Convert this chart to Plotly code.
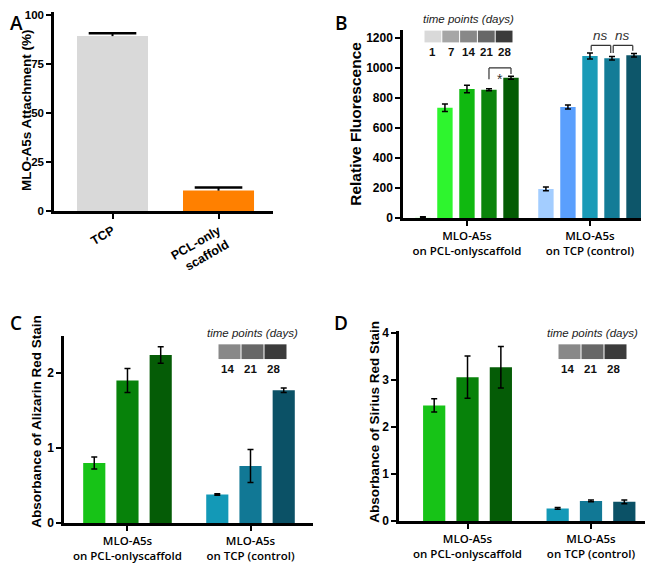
import plotly.graph_objects as go

# the page body keeps an 8px margin, so the figure is 8px smaller and all
# reference pixel positions are shifted by that amount
OFF = 8
W, H = 653 - OFF, 568 - OFF

# ---- data ----
a_groups = ["TCP", "PCL-only<br>scaffold"]
a_values = [89.2, 10.4]
a_errors = [1.4, 1.6]
a_colors = ["#d9d9d9", "#ff8000"]

groups = ["MLO-A5s<br>on PCL-onlyscaffold", "MLO-A5s<br>on TCP (control)"]

b_days = ["1", "7", "14", "21", "28"]
b_scaffold = [5, 735, 860, 855, 935]
b_scaffold_err = [5, 25, 25, 6, 10]
b_tcp = [195, 740, 1080, 1065, 1085]
b_tcp_err = [12, 14, 20, 12, 12]
b_scaffold_colors = ["#e6ffe6", "#2ef52e", "#10b910", "#0b840b", "#045c04"]
b_tcp_colors = ["#a3cdff", "#5a9ffd", "#1a9bb7", "#137c97", "#0d566a"]
b_grays = ["#d9d9d9", "#a6a6a6", "#888888", "#676767", "#3b3b3b"]

cd_days = ["14", "21", "28"]
c_scaffold = [0.80, 1.90, 2.24]
c_scaffold_err = [0.08, 0.16, 0.11]
c_tcp = [0.38, 0.76, 1.77]
c_tcp_err = [0.01, 0.22, 0.03]

d_scaffold = [2.46, 3.06, 3.27]
d_scaffold_err = [0.14, 0.45, 0.44]
d_tcp = [0.27, 0.43, 0.41]
d_tcp_err = [0.02, 0.02, 0.04]

cd_scaffold_colors = ["#17c317", "#07820a", "#055c06"]
cd_tcp_colors = ["#1399b7", "#117895", "#0b5166"]
cd_grays = ["#888888", "#676767", "#3b3b3b"]

BOLD = "Liberation Sans"
CAT = "Open Sans"


def px(x):
    return min(max((x - OFF) / W, 0), 1)


def py(y):
    return min(max(1 - (y - OFF) / H, 0), 1)


fig = go.Figure()


def add_groups(n, scaf, scaf_err, tcp, tcp_err, scaf_col, tcp_col, slot, width):
    k = len(scaf)
    for i in range(k):
        fig.add_trace(go.Bar(
            x=groups, y=[scaf[i], tcp[i]],
            offset=(i - (k - 1) / 2) * slot - width / 2, width=width,
            marker=dict(color=[scaf_col[i], tcp_col[i]], line=dict(width=0)),
            error_y=dict(type="data", array=[scaf_err[i], tcp_err[i]],
                         color="black", thickness=1.5, width=3),
            xaxis="x" + n, yaxis="y" + n, showlegend=False))


# panel A
fig.add_trace(go.Bar(
    x=a_groups, y=a_values, width=0.67,
    marker=dict(color=a_colors, line=dict(width=0)),
    error_y=dict(type="data", symmetric=False, array=a_errors,
                 arrayminus=[0, 0], color="black", thickness=2, width=0),
    xaxis="x", yaxis="y", showlegend=False))
fig.add_trace(go.Scatter(
    x=a_groups, y=[v + e for v, e in zip(a_values, a_errors)], mode="markers",
    marker=dict(symbol="line-ew", size=34, line=dict(width=2.5, color="black")),
    xaxis="x", yaxis="y", showlegend=False, hoverinfo="skip"))

add_groups("2", b_scaffold, b_scaffold_err, b_tcp, b_tcp_err,
           b_scaffold_colors, b_tcp_colors, 0.179, 0.125)
add_groups("3", c_scaffold, c_scaffold_err, c_tcp, c_tcp_err,
           cd_scaffold_colors, cd_tcp_colors, 0.27, 0.18)
add_groups("4", d_scaffold, d_scaffold_err, d_tcp, d_tcp_err,
           cd_scaffold_colors, cd_tcp_colors, 0.27, 0.18)

axis_common = dict(showline=True, linecolor="black", linewidth=2.5,
                   ticks="outside", ticklen=5, tickwidth=2, tickcolor="black",
                   showgrid=False, zeroline=False, fixedrange=True)
ytick_font = dict(family=BOLD, size=12, color="black", weight="bold")
cat_font = dict(family=CAT, size=11.5, color="black", weight=600)

fig.update_layout(
    width=W, height=H, margin=dict(l=0, r=0, t=0, b=0),
    paper_bgcolor="white", plot_bgcolor="white", barmode="overlay",
    xaxis=dict(domain=[px(54), px(273)], anchor="y", range=[-0.552, 1.514],
               tickangle=-30, tickfont=dict(family=BOLD, size=12.5, color="black", weight="bold"),
               **axis_common),
    yaxis=dict(domain=[py(211), 1], anchor="x", range=[0, 101.5],
               tickmode="linear", tick0=0, dtick=25,
               tickfont=dict(family=BOLD, size=11.5, color="black", weight="bold"),
               **axis_common),
    xaxis2=dict(domain=[px(403), px(641)], anchor="y2", range=[-0.52, 1.415],
                tickfont=cat_font, **axis_common),
    yaxis2=dict(domain=[py(218.3), py(26)], anchor="x2", range=[0, 1255],
                tickvals=[0, 200, 400, 600, 800, 1000, 1200], tickfont=ytick_font,
                **axis_common),
    xaxis3=dict(domain=[px(64), px(313)], anchor="y3", range=[-0.516, 1.508],
                tickfont=cat_font, **axis_common),
    yaxis3=dict(domain=[py(529.3), py(338)], anchor="x3", range=[0, 2.5],
                tickvals=[0, 1, 2], tickfont=ytick_font, **axis_common),
    xaxis4=dict(domain=[px(399), px(650)], anchor="y4", range=[-0.555, 1.478],
                tickfont=cat_font, **axis_common),
    yaxis4=dict(domain=[py(527.3), py(333)], anchor="x4", range=[0, 4.05],
                tickvals=[0, 1, 2, 3, 4], tickfont=ytick_font, **axis_common),
)

shapes = []
annotations = []


def note(x, y, text, font, **kw):
    annotations.append(dict(x=px(x), y=py(y), xref="paper", yref="paper", text=text,
                            showarrow=False, xanchor="center", yanchor="middle",
                            font=font, **kw))


# significance brackets in B
def bracket(x0, x1, top, leg0, leg1):
    line = dict(color="#333333", width=1.2)
    for s in [(x0, top, x1, top), (x0, top, x0, leg0), (x1, top, x1, leg1)]:
        shapes.append(dict(type="line", xref="x2", yref="y2", x0=s[0], y0=s[1],
                           x1=s[2], y1=s[3], line=line))


slot_b = 0.179
bracket(1 * slot_b, 2 * slot_b, 1000, 925, 960)
annotations.append(dict(x=1.5 * slot_b, y=995, xref="x2", yref="y2", text="*",
                        showarrow=False, font=dict(family=BOLD, size=14, color="#333333"),
                        xanchor="center", yanchor="top"))
bracket(1 + 0.01, 1 + slot_b - 0.01, 1150, 1115, 1100)
bracket(1 + slot_b + 0.01, 1 + 2 * slot_b - 0.01, 1150, 1100, 1115)
for c in [0.5 * slot_b, 1.5 * slot_b]:
    annotations.append(dict(x=1 + c, y=1155, xref="x2", yref="y2", text="<i>ns</i>",
                            showarrow=False, xanchor="center", yanchor="bottom",
                            font=dict(family=BOLD, size=13.5, color="#333333")))


# time point legends
def time_legend(x_left, y_top, box_w, box_h, grays, labels, num_shift):
    for i, g in enumerate(grays):
        shapes.append(dict(type="rect", xref="paper", yref="paper",
                           x0=px(x_left + i * box_w + 0.5), x1=px(x_left + (i + 1) * box_w - 0.5),
                           y0=py(y_top + box_h), y1=py(y_top), fillcolor=g, line=dict(width=0)))
        note(x_left + (i + 0.5) * box_w + num_shift, y_top + box_h + 10,
             "<b>%s</b>" % labels[i], dict(family=BOLD, size=11.5, color="#111111"))
    total = box_w * len(grays)
    note(x_left + total / 2, y_top - 12, "<i>time points (days)</i>",
         dict(family=BOLD, size=11.5, color="#222222"))


time_legend(424, 27, 17.8, 12, b_grays, b_days, 0)
time_legend(218, 347, 23, 15, cd_grays, cd_days, -2)
time_legend(558, 347, 23, 15, cd_grays, cd_days, -2)

# y-axis titles
titles = [("MLO-A5s Attachment (%)", 26, 108, 13.5),
          ("Relative Fluorescence", 356, 122, 15.5),
          ("Absorbance of Alizarin Red Stain", 37, 426, 13.5),
          ("Absorbance of Sirius Red Stain", 375, 426, 13.5)]
for t, x, y, s in titles:
    note(x, y, "<b>%s</b>" % t, dict(family=BOLD, size=s, color="black"), textangle=-90)

# panel letters
for t, x, y in [("A", 16, 19), ("B", 341, 19), ("C", 16, 325), ("D", 341, 325)]:
    note(x, y, t, dict(family=CAT, size=19, color="black", weight=600))

fig.update_layout(shapes=shapes, annotations=annotations)
fig.write_html("out.html")
